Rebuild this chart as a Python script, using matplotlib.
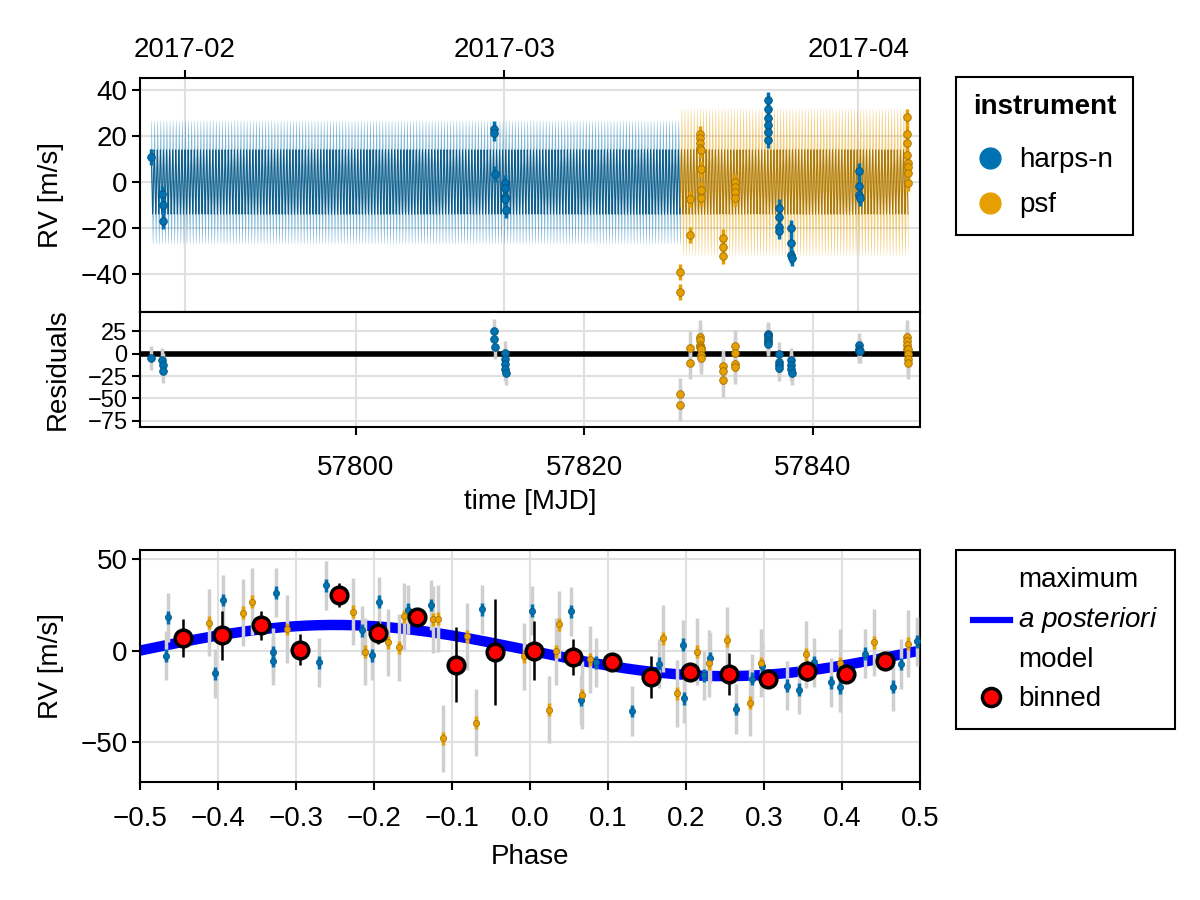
import numpy as np
import matplotlib.pyplot as plt
import matplotlib.colors as mc
from matplotlib.lines import Line2D

plt.rcParams['font.family'] = ['Liberation Sans', 'DejaVu Sans']
plt.rcParams['font.size'] = 20
plt.rcParams['mathtext.fontset'] = 'custom'
plt.rcParams['mathtext.it'] = 'Liberation Sans:italic'
plt.rcParams['mathtext.rm'] = 'Liberation Sans'

# =================== data ===================
# harps-n, time series
hn_t = [57782.05, 57783.05, 57783.10, 57783.12, 57812.10, 57812.12, 57812.15,
        57813.05, 57813.07, 57813.09, 57813.10, 57813.12,
        57836.05, 57836.07, 57836.08, 57836.09, 57836.10, 57836.11,
        57837.05, 57837.06, 57837.08, 57837.09,
        57838.12, 57838.13, 57838.14, 57838.15,
        57844.07, 57844.08, 57844.10, 57844.11]
hn_rv = [10.7, -5.3, -10.0, -16.9, 23.0, 21.3, 3.3,
         -0.6, -2.7, -6.4, -7.5, -12.1,
         35.5, 31.5, 27.6, 24.7, 21.8, 18.1,
         -11.1, -15.3, -19.5, -21.1,
         -19.8, -26.5, -31.6, -32.8,
         4.9, -1.6, -5.6, -7.1]
hn_res = [-4.7, -7.5, -12.9, -19.0, 25.5, 16.1, 7.8,
          0.3, -5.7, -11.1, -17.5, -21.2,
          22.0, 21.2, 18.3, 15.0, 13.2, 10.8,
          -0.3, -9.4, -13.0, -16.5,
          -6.8, -12.9, -16.9, -21.2,
          9.4, 5.0, 3.5, 2.9]

# psf, time series
ps_t = [57828.40, 57828.42, 57829.24, 57829.26,
        57830.14, 57830.15, 57830.16, 57830.17, 57830.18, 57830.19, 57830.20, 57830.22,
        57832.14, 57832.16, 57832.18,
        57833.18, 57833.20, 57833.22, 57833.24,
        57848.26, 57848.28, 57848.29, 57848.30, 57848.31, 57848.32, 57848.33, 57848.35]
ps_rv = [-39.0, -47.6, -7.2, -23.1,
         20.6, 18.9, 16.8, 14.8, 13.9, 5.5, -3.5, -6.8,
         -24.1, -28.4, -32.0,
         -0.1, -2.0, -4.5, -7.1,
         28.3, 21.0, 16.8, 11.7, 8.1, 6.6, 3.8, -0.3]
ps_res = [-45.2, -57.0, 6.5, -10.0,
          19.0, 15.0, 9.4, 7.8, 6.5, 5.0, -1.0, -4.6,
          -14.0, -19.0, -29.8,
          8.6, 0.3, -11.1, -15.4,
          19.0, 14.0, 9.7, 5.7, 5.0, -0.3, -5.7, -10.0]

# phase folded
hn_ph = [-0.467, -0.464, -0.404, -0.394, -0.329, -0.329, -0.326, -0.271, -0.261,
         -0.215, -0.203, -0.194, -0.156, -0.127, -0.062, 0.003, 0.052, 0.065,
         0.085, 0.131, 0.166, 0.196, 0.197, 0.223, 0.231, 0.264, 0.284, 0.297,
         0.329, 0.345, 0.364, 0.386, 0.397, 0.430, 0.465, 0.475, 0.496]
hn_ph_rv = [-2.8, 18.1, -12.5, 27.6, -0.9, -5.5, 31.7, -6.5, 35.7,
            11.0, -2.6, 26.7, 22.3, 24.9, 22.5, 21.7, 21.5, -27.1,
            -6.4, -33.1, -7.2, 3.1, -26.2, -13.6, -4.1, -32.0, -15.5, -8.7,
            -19.2, -21.5, -6.4, -17.3, -20.0, -1.7, -19.7, -7.4, 5.0]
ps_ph = [-0.412, -0.368, -0.356, -0.312, -0.227, -0.212, -0.182, -0.168, -0.162,
         -0.125, -0.118, -0.111, -0.081, -0.069, -0.008, 0.024, 0.033, 0.037,
         0.067, 0.077, 0.171, 0.188, 0.214, 0.229, 0.253, 0.282, 0.296, 0.354,
         0.397, 0.441, 0.484]
ps_ph_rv = [15.3, 20.8, 26.7, 11.8, 21.2, -0.6, 4.6, 1.8, 18.8,
            17.1, 17.5, -48.1, 7.9, -39.4, -3.1, -32.4, -0.4, 14.4,
            -24.3, -4.8, 6.8, -23.4, -0.6, -7.0, 5.7, -28.5, -6.8, -2.0,
            -6.8, 4.6, 3.7]

# binned
bin_ph = [-0.445, -0.395, -0.345, -0.295, -0.245, -0.195, -0.145, -0.095, -0.045, 0.005,
          0.055, 0.105, 0.155, 0.205, 0.255, 0.305, 0.355, 0.405, 0.455]
bin_rv = [7.0, 8.3, 13.8, 0.4, 30.4, 9.8, 18.2, -7.7, -0.6, 0.0,
          -3.5, -6.4, -14.4, -11.6, -12.9, -15.3, -11.0, -12.9, -5.5]
bin_err = [10.3, 13.6, 8.0, 8.5, 6.6, 6.4, 4.0, 20.6, 29.0, 16.0,
           9.7, 2.0, 11.3, 4.0, 11.5, 2.0, 5.5, 3.0, 2.0]

# errors, jitter, model
hn_err, ps_err = 3.5, 3.5
hn_jit, ps_jit = 13.0, 18.0
K = 14.0        # semi-amplitude [m/s]
P = 0.27        # period [d]
T_REF = 57782.0

date_ticks = [57785, 57813, 57844]
date_labels = ["2017-02", "2017-03", "2017-04"]

BLUE = "#0072B2"
ORANGE = "#E69F00"
GRID = "#e0e0e0"


def darken(c, f=0.55):
    r, g, b = mc.to_rgb(c)
    return (r * f, g * f, b * f)


def style(ax):
    for s in ax.spines.values():
        s.set_linewidth(1.5)
    ax.tick_params(direction="out", length=6, width=1.5, pad=3)
    ax.grid(True, color=GRID, lw=1.5)
    ax.set_axisbelow(True)


# =================== figure ===================
fig = plt.figure(figsize=(12, 9), dpi=100)
W, H = 1200, 900
ax1 = fig.add_axes([140 / W, 1 - 312 / H, 780 / W, 234 / H])
ax2 = fig.add_axes([140 / W, 1 - 427 / H, 780 / W, 115 / H])
ax3 = fig.add_axes([140 / W, 1 - 782 / H, 780 / W, 232 / H])
for ax in (ax1, ax2, ax3):
    style(ax)

# ---- time series with model ----
for t0, t1, c, jit in [(hn_t[0], ps_t[0], BLUE, hn_jit), (ps_t[0], ps_t[-1], ORANGE, ps_jit)]:
    tt = np.linspace(t0, t1, int((t1 - t0) / P * 40))
    m = K * np.sin(2 * np.pi * (tt - T_REF) / P)
    ax1.fill_between(tt, m - jit, m + jit, color=c, alpha=0.5, lw=0)
    ax1.plot(tt, m, color=darken(c, 0.7), lw=0.7, alpha=0.9)

for t, rv, err, c in [(hn_t, hn_rv, hn_err, BLUE), (ps_t, ps_rv, ps_err, ORANGE)]:
    ax1.errorbar(t, rv, yerr=err, fmt="o", color=c, ms=5.5, mec=darken(c, 0.7), mew=0.6,
                 elinewidth=2.5, capsize=0, zorder=5)

ax1.set_xlim(57781.1, 57849.4)
ax1.set_ylim(-56.4, 45.1)
ax1.set_yticks([-40, -20, 0, 20, 40])
ax1.set_xticks(date_ticks)
ax1.set_xticklabels(date_labels)
ax1.xaxis.set_ticks_position("top")
ax1.xaxis.set_label_position("top")
ax1.tick_params(axis="x", pad=5)
ax1.set_ylabel("RV [m/s]", labelpad=12)

# ---- residuals ----
ax2.axhline(0, color="black", lw=4, zorder=3)
for t, res, err, jit, c in [(hn_t, hn_res, hn_err, hn_jit, BLUE), (ps_t, ps_res, ps_err, ps_jit, ORANGE)]:
    ax2.errorbar(t, res, yerr=np.hypot(err, jit), fmt="none", ecolor="#cfcfcf",
                 elinewidth=2.5, capsize=0, zorder=4)
    ax2.errorbar(t, res, yerr=err, fmt="o", color=c, ms=5.5, mec=darken(c, 0.7), mew=0.6,
                 elinewidth=2.5, capsize=0, zorder=5)
ax2.set_xlim(ax1.get_xlim())
ax2.set_ylim(-81.8, 46.5)
ax2.set_yticks([-75, -50, -25, 0, 25])
ax2.set_xticks([57800, 57820, 57840])
ax2.tick_params(axis="y", labelsize=17)
ax2.tick_params(axis="x", pad=14)
ax2.set_xlabel("time [MJD]", labelpad=6)
ax2.set_ylabel("Residuals", labelpad=12)

# ---- phase folded ----
ph = np.linspace(-0.5, 0.5, 400)
ax3.plot(ph, -K * np.sin(2 * np.pi * ph), color="blue", lw=7.5, zorder=2)
for p, rv, err, jit, c in [(hn_ph, hn_ph_rv, hn_err, hn_jit, BLUE), (ps_ph, ps_ph_rv, ps_err, ps_jit, ORANGE)]:
    ax3.errorbar(p, rv, yerr=np.hypot(err, jit), fmt="none", ecolor="#cfcfcf",
                 elinewidth=2.5, capsize=0, zorder=3)
    ax3.errorbar(p, rv, yerr=err, fmt="o", color=c, ms=4.5, mec=darken(c, 0.7), mew=0.5,
                 elinewidth=2.5, capsize=0, zorder=4)
ax3.errorbar(bin_ph, bin_rv, yerr=bin_err, fmt="o", color="red", ms=12, mec="black", mew=2.5,
             ecolor="black", elinewidth=1.8, capsize=0, zorder=6)
ax3.set_xlim(-0.5, 0.5)
ax3.set_ylim(-71.9, 55)
ax3.set_xticks(np.round(np.arange(-0.5, 0.51, 0.1), 1))
ax3.set_yticks([-50, 0, 50])
ax3.tick_params(axis="x", pad=11)
ax3.set_xlabel("Phase", labelpad=9)
ax3.set_ylabel("RV [m/s]", labelpad=12)

fig.align_ylabels([ax1, ax2, ax3])

# ---- legends ----
h1 = [Line2D([], [], marker="o", ls="", color=BLUE, ms=15),
      Line2D([], [], marker="o", ls="", color=ORANGE, ms=15)]
leg1 = ax1.legend(h1, ["harps-n", "psf"], title="instrument", loc="upper left",
                  bbox_to_anchor=(956 / W, 1 - 77 / H), bbox_transform=fig.transFigure,
                  borderaxespad=0, fancybox=False, edgecolor="black", framealpha=1,
                  labelspacing=0.68, handlelength=1.0, handletextpad=0.55, borderpad=0.6,
                  title_fontproperties={"weight": "bold", "size": 20})
leg1._legend_box.sep = 20
leg1.get_frame().set_linewidth(1.5)

h3 = [Line2D([], [], color="blue", lw=4.5),
      Line2D([], [], marker="o", ls="", color="red", mec="black", mew=2.5, ms=13)]
leg3 = ax3.legend(h3, ["maximum\n$\\it{a\\ posteriori}$\nmodel", "binned"], loc="upper left",
                  bbox_to_anchor=(956 / W, 1 - 550 / H), bbox_transform=fig.transFigure,
                  borderaxespad=0, fancybox=False, edgecolor="black", framealpha=1,
                  handlelength=1.35, handletextpad=0.3, borderpad=0.6)
leg3.get_frame().set_linewidth(1.5)
leg3.get_texts()[0].set_linespacing(1.57)

fig.savefig("out.png", dpi=100)
plt.close(fig)
